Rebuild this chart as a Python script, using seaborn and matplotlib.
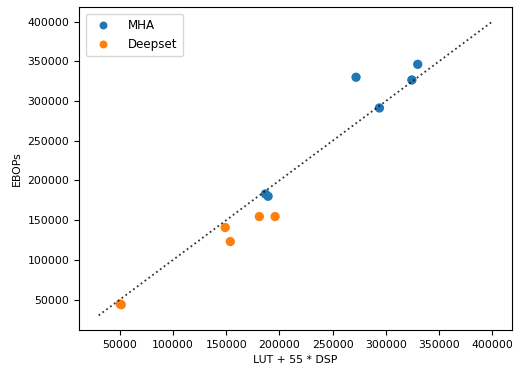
import matplotlib
matplotlib.use("Agg")
import matplotlib.pyplot as plt
import seaborn as sns
import pandas as pd

mha_x = [272000, 330000, 324500, 294000, 186800, 189300]
mha_y = [330000, 346300, 326600, 291300, 183000, 180100]
deepset_x = [50300, 51300, 149000, 153800, 181100, 195900]
deepset_y = [44300, 43500, 140700, 123000, 154500, 154500]
ref_line = [30000, 400000]

plt.rcParams["font.size"] = 7.8

df = pd.DataFrame({
    "x": mha_x + deepset_x,
    "y": mha_y + deepset_y,
    "model": ["MHA"] * len(mha_x) + ["Deepset"] * len(deepset_x),
})

fig = plt.figure(figsize=(5.16, 3.68), dpi=100)
ax = fig.add_axes([0.153, 0.103, 0.839, 0.878])
sns.scatterplot(data=df, x="x", y="y", hue="model", ax=ax, s=45,
                palette=["#1f77b4", "#ff7f0e"], edgecolor="none", linewidth=0)
ax.plot(ref_line, ref_line, color="black", linestyle=":", linewidth=1.3, alpha=0.8)
ax.legend(loc="upper left", title=None, fontsize=8.6, labelspacing=0.5,
          handletextpad=1.1, markerscale=0.85, borderpad=0.45,
          bbox_to_anchor=(0.002, 0.998))
ax.set_xlabel("LUT + 55 * DSP")
ax.set_ylabel("EBOPs")
ax.set_xticks([50000, 100000, 150000, 200000, 250000, 300000, 350000, 400000])
ax.set_yticks([50000, 100000, 150000, 200000, 250000, 300000, 350000, 400000])
ax.ticklabel_format(style="plain")
fig.savefig("out.png", dpi=100)
